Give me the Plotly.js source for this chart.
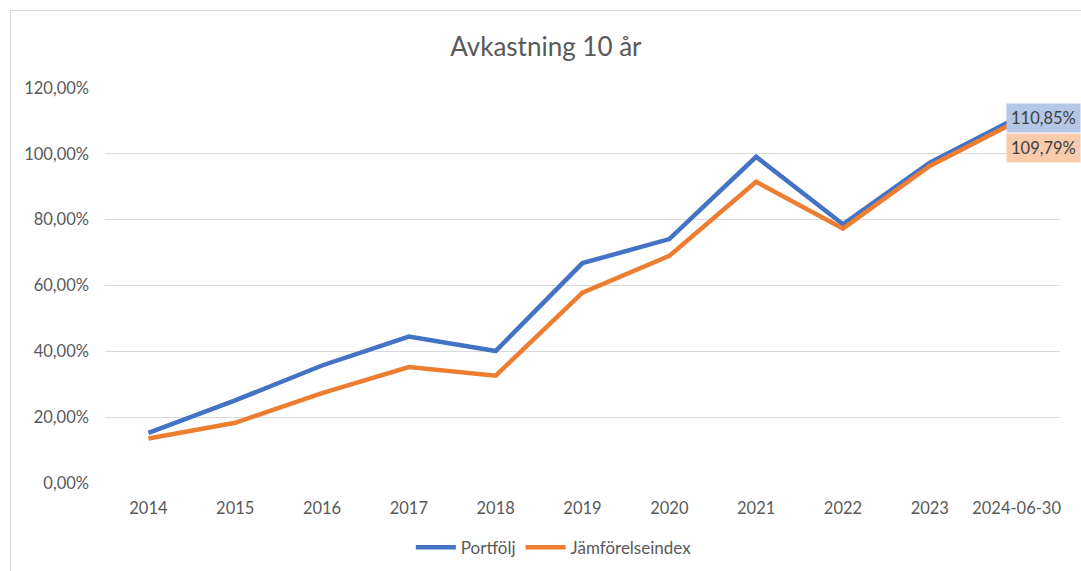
<!DOCTYPE html>
<html>
<head>
<meta charset="utf-8">
<script src="https://cdn.plot.ly/plotly-3.0.1.min.js"></script>
<style>
  html, body { margin: 0; padding: 0; background: #fff; overflow: hidden; }
  #chart { width: 1081px; height: 571px; }
  #frame { position: absolute; left: 10px; top: 10px; width: 1100px; height: 620px; border: 1px solid #d9d9d9; pointer-events: none; }
</style>
</head>
<body>
<div id="chart"></div>
<div id="frame"></div>
<script>
const categories = ["2014", "2015", "2016", "2017", "2018", "2019", "2020", "2021", "2022", "2023", "2024-06-30"];
const portfolj = [15.2, 25.1, 35.7, 44.5, 40.1, 66.8, 74.1, 99.1, 78.6, 97.3, 110.85];
const jamforelseindex = [13.5, 18.3, 27.3, 35.2, 32.6, 57.8, 69.0, 91.5, 77.3, 96.3, 109.79];
const seriesNames = ["Portfölj", "Jämförelseindex"];
const titleText = "Avkastning 10 år";

const FONT = "Lato, 'Open Sans', sans-serif";
const GREY = "#595959";
const BLUE = "#4472c4";
const ORANGE = "#ed7d31";

function pct(v) { return v.toFixed(2).replace(".", ",") + "%"; }

const traces = [
  { x: categories, y: portfolj, name: seriesNames[0], type: "scatter", mode: "lines",
    line: { color: BLUE, width: 4.5 }, hoverinfo: "skip" },
  { x: categories, y: jamforelseindex, name: seriesNames[1], type: "scatter", mode: "lines",
    line: { color: ORANGE, width: 4.5 }, hoverinfo: "skip" }
];

const last = categories.length - 1;
const layout = {
  width: 1081, height: 571,
  margin: { l: 105, r: 21, t: 88, b: 88, autoexpand: false },
  paper_bgcolor: "#fff", plot_bgcolor: "#fff",
  separators: ", ",
  font: { family: FONT, color: GREY, size: 16 },
  title: { text: titleText, x: 0.505, xref: "container", y: 1 - 47 / 571, yref: "container",
           yanchor: "middle", font: { family: FONT, size: 26, color: GREY } },
  showlegend: true,
  legend: { orientation: "h", x: 0.47, xanchor: "center", y: -0.164, yanchor: "middle",
            font: { family: FONT, size: 17, color: GREY }, itemwidth: 40 },
  xaxis: { type: "category", range: [-0.5, categories.length - 0.5], showgrid: false, zeroline: false,
           showline: false, ticks: "", ticklabelstandoff: 13, automargin: false,
           tickfont: { family: FONT, size: 16.5, color: GREY }, fixedrange: true },
  yaxis: { range: [0, 120], tickvals: [0, 20, 40, 60, 80, 100, 120],
           ticktext: [0, 20, 40, 60, 80, 100, 120].map(pct), automargin: false,
           showgrid: true, gridcolor: "#d9d9d9", gridwidth: 1, zeroline: false, showline: false,
           ticks: "", ticklabelstandoff: 15, tickfont: { family: FONT, size: 16.5, color: GREY }, fixedrange: true },
  annotations: [
    { x: categories[last], y: portfolj[last], xref: "x", yref: "y", text: pct(portfolj[last]),
      showarrow: false, xanchor: "left", yanchor: "middle", xshift: -11,
      bgcolor: "#b4c7e7", borderpad: 4, font: { family: FONT, size: 16.5, color: "#404040" } },
    { x: categories[last], y: jamforelseindex[last], xref: "x", yref: "y", text: pct(jamforelseindex[last]),
      showarrow: false, xanchor: "left", yanchor: "middle", xshift: -11, yshift: -26,
      bgcolor: "#f8cbad", borderpad: 4, font: { family: FONT, size: 16.5, color: "#404040" } }
  ]
};

Plotly.newPlot("chart", traces, layout, { displayModeBar: false, staticPlot: true });
</script>
</body>
</html>
